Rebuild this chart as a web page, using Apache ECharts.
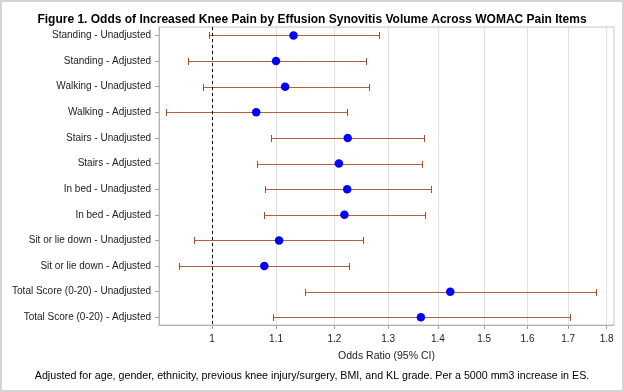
<!DOCTYPE html>
<html><head><meta charset="utf-8">
<script src="https://cdn.jsdelivr.net/npm/echarts@6/dist/echarts.min.js"></script>
<style>html,body{margin:0;padding:0;background:#fff}#c{width:624px;height:392px}</style>
</head><body><div id="c"></div>
<script>
const categories = [
  'Standing - Unadjusted', 'Standing - Adjusted',
  'Walking - Unadjusted', 'Walking - Adjusted',
  'Stairs - Unadjusted', 'Stairs - Adjusted',
  'In bed - Unadjusted', 'In bed - Adjusted',
  'Sit or lie down - Unadjusted', 'Sit or lie down - Adjusted',
  'Total Score (0-20) - Unadjusted', 'Total Score (0-20) - Adjusted'
];
const oddsRatio = [1.129, 1.100, 1.115, 1.068, 1.224, 1.208, 1.223, 1.218, 1.105, 1.081, 1.426, 1.365];
const lowerCI   = [0.996, 0.965, 0.986, 0.933, 1.091, 1.070, 1.082, 1.080, 0.974, 0.952, 1.148, 1.095];
const upperCI   = [1.282, 1.257, 1.263, 1.222, 1.372, 1.368, 1.385, 1.374, 1.253, 1.227, 1.773, 1.704];
const xTicks = [1, 1.1, 1.2, 1.3, 1.4, 1.5, 1.6, 1.7, 1.8];
const rowIndex = categories.map((_, i) => i);

const FONT = 'Liberation Sans, Arial, sans-serif';
const chart = echarts.init(document.getElementById('c'), null, {renderer: 'canvas'});
chart.setOption({
  animation: false,
  backgroundColor: '#fff',
  graphic: [{
    type: 'rect', silent: true, z: 100,
    shape: {x: 1, y: 1, width: 622, height: 390},
    style: {fill: 'none', stroke: '#d4d4d4', lineWidth: 2}
  }],
  title: [{
    text: 'Figure 1. Odds of Increased Knee Pain by Effusion Synovitis Volume Across WOMAC Pain Items',
    left: 'center', top: 9,
    textStyle: {fontSize: 12, fontWeight: 'bold', color: '#000', fontFamily: FONT}
  }, {
    text: 'Adjusted for age, gender, ethnicity, previous knee injury/surgery, BMI, and KL grade. Per a 5000 mm3 increase in ES.',
    left: 'center', top: 366,
    textStyle: {fontSize: 10.7, fontWeight: 'normal', color: '#000', fontFamily: FONT}
  }],
  grid: {left: 159, right: 10, top: 27, bottom: 67, show: true, borderColor: '#c4c4c4', borderWidth: 1, containLabel: false},
  xAxis: {
    type: 'log', logBase: 10, min: 0.924, max: 1.82,
    name: 'Odds Ratio (95% CI)', nameLocation: 'middle', nameGap: 26,
    nameTextStyle: {fontSize: 10.5, color: '#222', fontFamily: FONT},
    axisLine: {show: true, onZero: false, lineStyle: {color: '#b4b4b4'}},
    axisTick: {show: true, customValues: xTicks, length: 4, lineStyle: {color: '#a0a0a0'}},
    axisLabel: {customValues: xTicks, formatter: v => String(Math.round(v * 10) / 10), fontSize: 10, color: '#222', fontFamily: FONT, margin: 9},
    splitLine: {show: true, lineStyle: {color: '#e2e2e2', width: 1}}
  },
  yAxis: {
    type: 'value', inverse: true, min: -0.33, max: 11.3,
    axisLine: {show: true, onZero: false, lineStyle: {color: '#b4b4b4'}},
    axisTick: {show: true, customValues: rowIndex, length: 4, lineStyle: {color: '#a0a0a0'}},
    axisLabel: {customValues: rowIndex, formatter: v => categories[Math.round(v)], fontSize: 10, color: '#222', fontFamily: FONT, margin: 8},
    splitLine: {show: false}
  },
  series: [{
    type: 'custom',
    data: rowIndex.map(i => [i, lowerCI[i], upperCI[i]]),
    encode: {x: [1, 2], y: 0},
    z: 2,
    renderItem: (params, api) => {
      const y = api.value(0);
      const lo = api.coord([api.value(1), y]);
      const hi = api.coord([api.value(2), y]);
      const yy = Math.round(lo[1]) + 0.5;
      const x1 = Math.round(lo[0]) + 0.5, x2 = Math.round(hi[0]) + 0.5;
      const h = 3.5;
      const st = {stroke: '#b0603c', lineWidth: 1};
      const cap = {stroke: '#a0502d', lineWidth: 1};
      return {type: 'group', children: [
        {type: 'line', shape: {x1: x1, y1: yy, x2: x2, y2: yy}, style: st},
        {type: 'line', shape: {x1: x1, y1: yy - h, x2: x1, y2: yy + h}, style: cap},
        {type: 'line', shape: {x1: x2, y1: yy - h, x2: x2, y2: yy + h}, style: cap}
      ]};
    }
  }, {
    type: 'scatter',
    data: rowIndex.map(i => [oddsRatio[i], i]),
    symbol: 'circle', symbolSize: 8.5,
    itemStyle: {color: '#0000ff', opacity: 1},
    z: 3,
    markLine: {
      silent: true, symbol: ['none', 'none'], label: {show: false},
      lineStyle: {type: [3, 3], color: '#000', width: 1},
      data: [{xAxis: 1}]
    }
  }]
});
</script></body></html>
